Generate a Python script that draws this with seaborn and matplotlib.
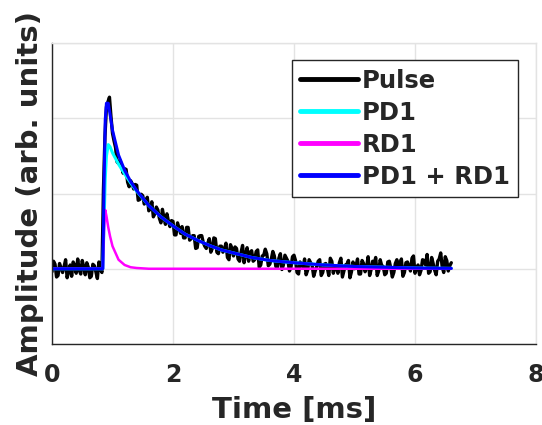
import numpy as np
import pandas as pd
import matplotlib
matplotlib.use("Agg")
import matplotlib.pyplot as plt
import seaborn as sns

# measured pulse, two interleaved sample sets, each every 0.05 ms
pulse_dt = 0.05
pulse_a = [  # t = 0, 0.05, ..., 6.6
    -0.04, 0.06, -0.09, 0.01, 0.03, -0.12, 0.05, 0.09, -0.06, -0.02,
    0.11, -0.08, 0.02, -0.10, 0.04, -0.13, 0.00,
    1.05, 2.15, 2.28, 1.80,
    1.61, 1.40, 1.37, 1.33, 1.15, 1.17, 1.06, 1.11, 0.92, 0.97,
    0.90, 0.77, 0.89, 0.73, 0.78, 0.61, 0.68, 0.73, 0.56, 0.63,
    0.45, 0.54, 0.56, 0.41, 0.55, 0.40, 0.44, 0.28, 0.44, 0.35,
    0.27, 0.40, 0.27, 0.40, 0.20, 0.30, 0.26, 0.15, 0.32, 0.17,
    0.27, 0.10, 0.31, 0.19, 0.10, 0.24, 0.12, 0.25, 0.05, 0.18,
    0.20, 0.06, 0.23, 0.03, 0.14, -0.01, 0.18, 0.10, 0.02, 0.18,
    -0.05, 0.09, 0.02, -0.08, 0.12, 0.04, -0.03, 0.10, -0.09, 0.06,
    0.01, 0.14, -0.06, 0.03, 0.08, -0.11, 0.05, 0.11, -0.04, 0.00,
    0.13, -0.07, 0.07, 0.02, -0.09, 0.10, 0.15, -0.03, 0.04, -0.08,
    0.09, 0.01, -0.05, 0.12, 0.06, -0.10, 0.08, 0.03, 0.14, -0.06,
    0.05, -0.02, 0.11, 0.19, -0.04, 0.07, -0.08, 0.13, 0.02, 0.16,
    -0.03, 0.08,
]
pulse_b = [  # t = 0.025, 0.075, ..., 6.575
    0.10, -0.11, 0.07, -0.05, 0.12, -0.03, -0.10, 0.04, 0.13, -0.07,
    0.02, 0.08, -0.12, 0.06, -0.04, 0.09,
    -0.05, 1.75, 2.22, 2.02, 1.70,
    1.42, 1.44, 1.27, 1.32, 1.09, 1.13, 1.12, 0.91, 0.99, 0.86,
    0.95, 0.80, 0.69, 0.82, 0.67, 0.79, 0.59, 0.63, 0.64, 0.45,
    0.61, 0.47, 0.41, 0.55, 0.38, 0.44, 0.27, 0.43, 0.44, 0.30,
    0.34, 0.22, 0.41, 0.22, 0.30, 0.22, 0.34, 0.12, 0.27, 0.29,
    0.13, 0.22, 0.08, 0.28, 0.22, 0.10, 0.23, 0.02, 0.17, 0.26,
    0.04, 0.13, 0.17, 0.01, 0.20, 0.05, 0.14, -0.03, 0.16,
    0.11, -0.07, 0.05, 0.13, -0.02, 0.08, -0.10, 0.03, 0.12, -0.05,
    0.07, -0.09, 0.10, 0.02, -0.06, 0.14, -0.03, 0.06, -0.12, 0.09,
    0.04, -0.07, 0.11, -0.04, 0.16, -0.01, 0.06, -0.09, 0.12, 0.03,
    -0.06, 0.10, -0.11, 0.07, 0.02, 0.13, -0.05, 0.09, -0.03, 0.17,
    0.01, -0.08, 0.12, 0.05, -0.06, 0.15, -0.02, 0.10, 0.21, -0.05,
    0.11, 0.04,
]

# fitted components
fit_t = [0, 0.8, 0.84, 0.86, 0.88, 0.9, 0.93, 0.96, 1.0, 1.1, 1.2, 1.3, 1.4,
         1.6, 1.8, 2.0, 2.2, 2.4, 2.6, 2.8, 3.0, 3.3, 3.6, 4.0, 4.5, 5.0,
         5.5, 6.0, 6.6]
pd1 = [0, 0, 0, 0.60, 1.20, 1.50, 1.65, 1.62, 1.54, 1.39, 1.26, 1.14, 1.03,
       0.84, 0.69, 0.57, 0.46, 0.38, 0.31, 0.25, 0.21, 0.15, 0.11, 0.08,
       0.05, 0.03, 0.02, 0.01, 0.005]
rd1 = [0, 0, 0, 0.50, 0.78, 0.70, 0.55, 0.43, 0.30, 0.12, 0.05, 0.02, 0.01,
       0, 0, 0, 0, 0, 0, 0, 0, 0, 0, 0, 0, 0, 0, 0, 0]
pd1_rd1 = [0, 0, 0, 1.10, 1.98, 2.20, 2.20, 2.05, 1.84, 1.51, 1.31, 1.16, 1.04,
           0.84, 0.69, 0.57, 0.46, 0.38, 0.31, 0.25, 0.21, 0.15, 0.11, 0.08,
           0.05, 0.03, 0.02, 0.01, 0.005]

pulse_df = pd.concat([
    pd.DataFrame({"t": np.arange(len(pulse_a)) * pulse_dt, "a": pulse_a}),
    pd.DataFrame({"t": np.arange(len(pulse_b)) * pulse_dt + pulse_dt / 2,
                  "a": pulse_b}),
]).sort_values("t").reset_index(drop=True)
fit_df = pd.DataFrame({"t": fit_t, "PD1": pd1, "RD1": rd1, "PD1 + RD1": pd1_rd1})

sns.set_style("whitegrid")
plt.rcParams["font.family"] = ["DejaVu Sans"]

fig = plt.figure(figsize=(5.42, 4.25), dpi=100)
ax = fig.add_axes([52 / 542, 1 - 344 / 425, 484 / 542, 301 / 425])

sns.lineplot(data=pulse_df, x="t", y="a", color="black", lw=2.4,
             estimator=None, sort=False, ax=ax, label="Pulse")
sns.lineplot(data=fit_df, x="t", y="PD1", color="#00ffff", lw=2.2,
             estimator=None, ax=ax, label="PD1")
sns.lineplot(data=fit_df, x="t", y="RD1", color="#ff00ff", lw=1.8,
             estimator=None, ax=ax, label="RD1")
sns.lineplot(data=fit_df, x="t", y="PD1 + RD1", color="#0000ff", lw=2.2,
             estimator=None, ax=ax, label="PD1 + RD1")

ax.set_xlim(0, 8)
ax.set_ylim(-1, 3)
ax.set_xticks([0, 2, 4, 6, 8])
ax.set_yticks([-1, 0, 1, 2, 3])
ax.set_yticklabels([])
ax.grid(True, color="#e3e3e3", lw=1)
ax.tick_params(axis="x", labelsize=17, colors="#262626", direction="in",
               length=4, pad=14)
ax.tick_params(axis="y", direction="in", length=4, colors="#262626")
for lab in ax.get_xticklabels():
    lab.set_fontweight("bold")

for s in ["left", "bottom"]:
    ax.spines[s].set_color("#262626")
    ax.spines[s].set_linewidth(1)
for s in ["top", "right"]:
    ax.spines[s].set_color("#e3e3e3")
    ax.spines[s].set_linewidth(1)

ax.set_xlabel("Time [ms]", fontsize=21, fontweight="bold",
              color="#262626", labelpad=6)
ax.set_ylabel("Amplitude (arb. units)", fontsize=21, fontweight="bold",
              color="#262626", labelpad=2)

leg = ax.legend(loc="upper right", bbox_to_anchor=(518 / 542, 1 - 60 / 425),
                bbox_transform=fig.transFigure, borderaxespad=0,
                prop={"weight": "bold", "size": 17.5},
                handlelength=2.4, handletextpad=0.13, labelspacing=0.33,
                borderpad=0.35, frameon=True, fancybox=False)
leg.get_frame().set_edgecolor("#262626")
leg.get_frame().set_linewidth(1)
leg.get_frame().set_alpha(1)
for line in leg.get_lines():
    line.set_linewidth(3.5)

fig.savefig("out.png", dpi=100)
